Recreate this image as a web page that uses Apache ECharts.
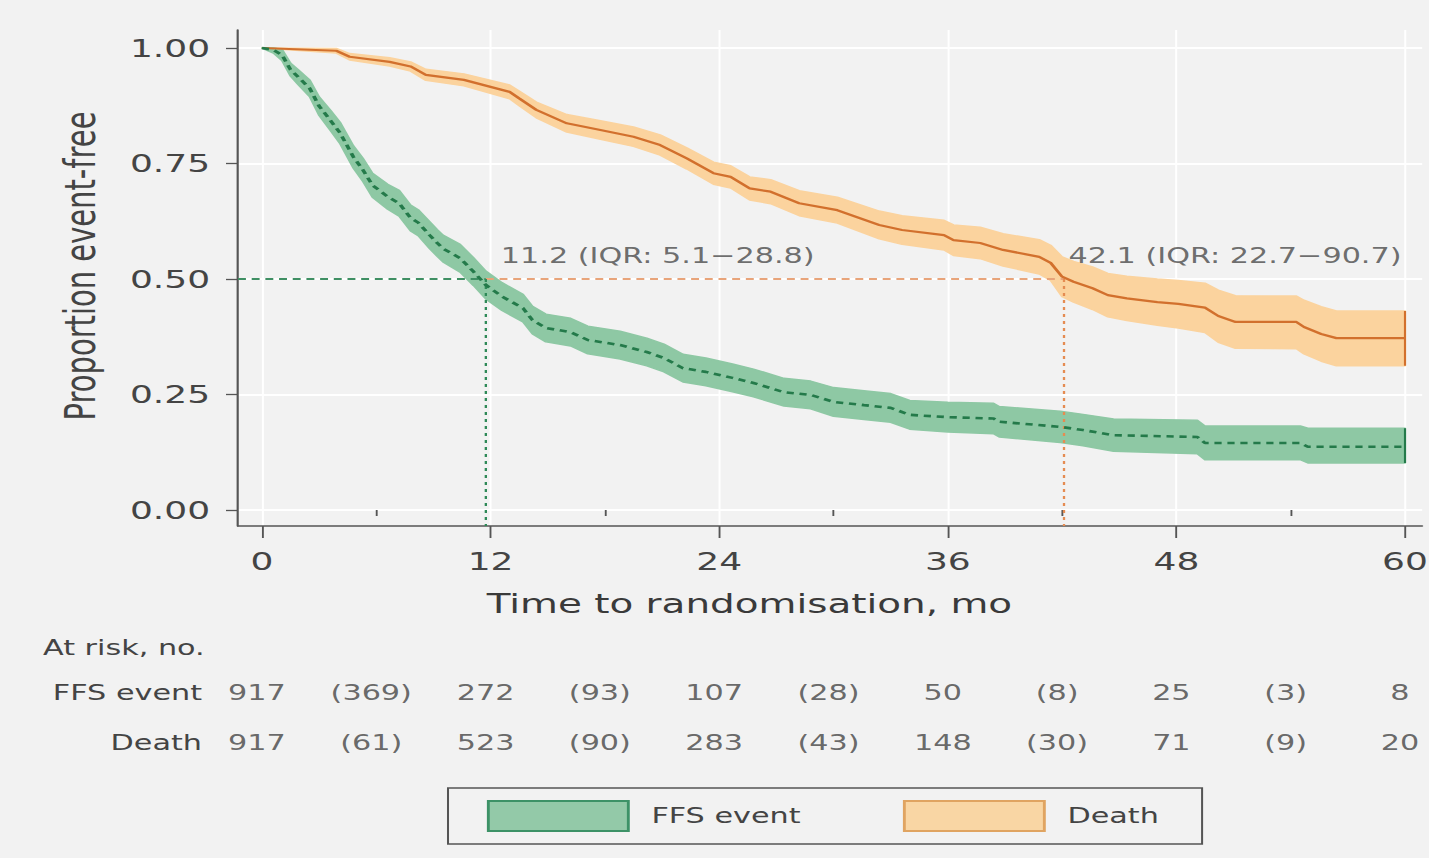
<!DOCTYPE html>
<html><head><meta charset="utf-8">
<script src="https://cdn.jsdelivr.net/npm/echarts@6/dist/echarts.min.js"></script>
<style>
html,body{margin:0;padding:0;background:#f2f2f2;overflow:hidden;width:1429px;height:858px;}
#chart{width:992px;height:858px;transform:scaleX(1.440524);transform-origin:0 0;}
</style></head><body><div id="chart"></div>
<script>
// ---------------- data (curve vertices) ----------------
const ffsTime  = [0,0.6,1.05,1.5,1.9,2.5,3.0,3.6,4.1,4.8,5.3,5.8,6.6,7.2,7.8,8.2,8.8,9.2,9.5,10.4,11.1,11.75,12.6,13.7,14.2,14.9,16.2,17.1,18.8,20.2,21.1,22.1,23.3,24.7,25.8,27.4,28.8,30.0,31.6,33.0,34.0,36.0,38.4,38.7,41.9,43.1,44.7,49.1,49.5,54.5,54.9,60];
const ffsSurv  = [1.000,0.996,0.985,0.953,0.937,0.913,0.874,0.843,0.816,0.764,0.736,0.703,0.678,0.664,0.632,0.622,0.595,0.578,0.566,0.545,0.516,0.487,0.462,0.437,0.411,0.394,0.385,0.368,0.357,0.342,0.329,0.307,0.299,0.286,0.275,0.255,0.249,0.234,0.227,0.221,0.206,0.201,0.198,0.191,0.180,0.173,0.162,0.158,0.145,0.145,0.137,0.137];
const ffsLower = [1.000,0.989,0.973,0.939,0.921,0.895,0.854,0.821,0.793,0.740,0.711,0.677,0.651,0.636,0.604,0.594,0.566,0.549,0.537,0.515,0.486,0.457,0.432,0.407,0.381,0.364,0.355,0.338,0.327,0.312,0.299,0.277,0.269,0.256,0.245,0.225,0.219,0.203,0.196,0.190,0.175,0.169,0.165,0.158,0.146,0.139,0.127,0.122,0.109,0.109,0.102,0.102];
const ffsUpper = [1.000,1.000,0.997,0.967,0.953,0.931,0.894,0.865,0.839,0.788,0.761,0.729,0.705,0.692,0.660,0.650,0.624,0.607,0.595,0.575,0.546,0.517,0.492,0.467,0.441,0.424,0.415,0.398,0.387,0.372,0.359,0.337,0.329,0.316,0.305,0.285,0.279,0.265,0.258,0.252,0.237,0.233,0.231,0.224,0.214,0.207,0.197,0.194,0.182,0.182,0.177,0.177];

const deathTime  = [0,3.9,4.6,6.7,7.8,8.6,10.6,13.0,13.5,14.4,16.0,17.7,19.5,20.9,22.3,23.7,24.6,25.6,26.7,28.2,30.2,32.4,33.6,35.8,36.3,37.7,38.9,40.8,41.4,42.0,42.6,43.6,44.4,45.4,47.0,48.1,49.5,50.2,51.1,54.3,54.7,55.6,56.4,60];
const deathSurv  = [1.000,0.994,0.981,0.970,0.960,0.942,0.931,0.905,0.891,0.866,0.837,0.823,0.808,0.790,0.761,0.729,0.721,0.696,0.689,0.664,0.649,0.617,0.606,0.595,0.584,0.578,0.563,0.548,0.535,0.505,0.494,0.480,0.465,0.458,0.450,0.446,0.438,0.420,0.407,0.407,0.396,0.381,0.372,0.372];
const deathLower = [1.000,0.989,0.974,0.961,0.950,0.930,0.918,0.890,0.875,0.849,0.818,0.803,0.787,0.768,0.738,0.705,0.697,0.671,0.663,0.637,0.621,0.587,0.575,0.563,0.551,0.544,0.528,0.511,0.497,0.462,0.450,0.434,0.418,0.410,0.400,0.394,0.384,0.363,0.350,0.349,0.338,0.322,0.312,0.312];
const deathUpper = [1.000,0.999,0.988,0.979,0.970,0.954,0.944,0.920,0.907,0.883,0.856,0.843,0.829,0.812,0.784,0.753,0.745,0.721,0.715,0.691,0.677,0.647,0.637,0.627,0.617,0.612,0.598,0.585,0.573,0.548,0.538,0.526,0.512,0.506,0.500,0.497,0.491,0.476,0.464,0.463,0.454,0.440,0.431,0.431];

const xTickValues = [0,12,24,36,48,60];
const xMinorTickValues = [6,18,30,42,54];
const yTickValues = [0,0.25,0.5,0.75,1];

const rowNames = ['FFS event','Death'];
const riskTimes = [0,12,24,36,48,60];
const eventTimes = [6,18,30,42,54];
const ffsAtRisk = [917,272,107,50,25,8];
const ffsEvents = [369,93,28,8,3];
const deathAtRisk = [917,523,283,148,71,20];
const deathEvents = [61,90,43,30,9];

const medianFFSLine = 11.75;     // where the vertical guide sits in the figure
const medianDeathLine = 42.1;
const annotationX = [12.5, 42.3];
const annotationY = 0.55;
const annotationText = ['11.2 (IQR: 5.1\u221228.8)', '42.1 (IQR: 22.7\u221290.7)'];

// ---------------- layout ----------------
const SX = 1429/992;
const u = X => X / SX;
const FONT = 'DejaVu Sans';
const xMin = -1.26, xMax = 60.9, yMin = -0.03463, yMax = 1.03896;
const gridWidth = (xMax - xMin) * (u(1405) - u(262)) / 60;

const GREEN_BAND = '#8ec8a4', GREEN_LINE = '#247a4a';
const ORANGE_BAND = '#fbd39e', ORANGE_LINE = '#d2702d';

const zip = (t, v) => t.map((x, i) => [x, v[i]]);

// confidence band polygon, drawn through the axis scales
function bandRenderer(times, lo, hi, color) {
  return function (params, api) {
    if (params.dataIndex !== 0) return null;
    const pts = [];
    for (let i = 0; i < times.length; i++) pts.push(api.coord([times[i], hi[i]]));
    for (let i = times.length - 1; i >= 0; i--) pts.push(api.coord([times[i], lo[i]]));
    return {type: 'polygon', shape: {points: pts},
            style: {fill: color, stroke: color, lineWidth: 1.5, lineJoin: 'round', opacity: 1}};
  };
}

const tableData = [];
riskTimes.forEach((t, i) => {
  tableData.push([t, rowNames[0], String(ffsAtRisk[i])]);
  tableData.push([t, rowNames[1], String(deathAtRisk[i])]);
});
eventTimes.forEach((t, i) => {
  tableData.push([t, rowNames[0], '(' + ffsEvents[i] + ')']);
  tableData.push([t, rowNames[1], '(' + deathEvents[i] + ')']);
});

const chart = echarts.init(document.getElementById('chart'), null, {renderer: 'svg'});
const lastF = ffsTime.length - 1, lastD = deathTime.length - 1;

chart.setOption({
  animation: false,
  backgroundColor: '#f2f2f2',
  textStyle: {fontFamily: FONT},
  title: {
    text: 'At risk, no.', left: u(43), top: 637, padding: 0,
    textStyle: {fontFamily: FONT, fontSize: 21, fontWeight: 'normal', color: '#444'}
  },
  legend: {
    left: u(448), top: 788,
    data: [
      {name: 'FFS event', icon: 'rect', itemStyle: {color: '#93c9a8', borderColor: '#3d9267', borderWidth: 2}},
      {name: 'Death', icon: 'rect', itemStyle: {color: '#f9d6a4', borderColor: '#e0a461', borderWidth: 2}}
    ],
    itemWidth: u(140), itemHeight: 30, itemGap: 71,
    padding: [12, 30, 12, 27],
    borderColor: '#555', borderWidth: 1.4,
    selectedMode: false,
    textStyle: {fontFamily: FONT, fontSize: 21, color: '#444', padding: [0, 0, 0, 11]}
  },
  grid: [
    {left: u(238), top: 30, width: gridWidth, height: 496, outerBoundsMode: 'none', containLabel: false},
    {left: u(238), top: 668, width: gridWidth, height: 100, outerBoundsMode: 'none', containLabel: false}
  ],
  xAxis: [
    {
      type: 'value', gridIndex: 0, position: 'bottom', min: xMin, max: xMax,
      name: 'Time to randomisation, mo', nameLocation: 'middle', nameGap: 64, nameMoveOverlap: false,
      nameTextStyle: {fontFamily: FONT, fontSize: 27, color: '#3a3a3a', padding: [0, 112, 0, 0]},
      axisLine: {show: true, onZero: false, lineStyle: {color: '#555', width: 1.5}},
      axisTick: {show: true, customValues: xTickValues, length: 12, lineStyle: {color: '#555', width: 1.3}},
      axisLabel: {show: true, customValues: xTickValues, margin: 23, fontFamily: FONT, fontSize: 25, color: '#444'},
      splitLine: {show: true, lineStyle: {color: '#ffffff', width: 1.4}}
    },
    {
      type: 'value', gridIndex: 0, position: 'bottom', min: xMin, max: xMax,
      axisLine: {show: false},
      axisTick: {show: true, customValues: xMinorTickValues, length: 6, lineStyle: {color: '#555', width: 1.3}},
      axisLabel: {show: false},
      splitLine: {show: false}
    },
    {
      type: 'value', gridIndex: 1, min: xMin, max: xMax, show: false
    }
  ],
  yAxis: [
    {
      type: 'value', gridIndex: 0, min: yMin, max: yMax,
      name: 'Proportion event-free', nameLocation: 'middle', nameGap: 95, nameMoveOverlap: false,
      nameTextStyle: {fontFamily: FONT, fontSize: 29, color: '#444', padding: [0, 0, 0, 24]},
      axisLine: {show: true, onZero: false, lineStyle: {color: '#555', width: 1.5}},
      axisTick: {show: true, customValues: yTickValues, length: u(12), lineStyle: {color: '#555', width: 1.3}},
      axisLabel: {show: true, customValues: yTickValues, margin: 19.4, fontFamily: FONT, fontSize: 25, color: '#444',
                  formatter: v => v.toFixed(2)},
      splitLine: {show: true, lineStyle: {color: '#ffffff', width: 2}}
    },
    {
      type: 'category', gridIndex: 1, data: rowNames, inverse: true,
      axisLine: {show: false}, axisTick: {show: false}, splitLine: {show: false},
      axisLabel: {show: true, margin: 25, fontFamily: FONT, fontSize: 21, color: '#444'}
    }
  ],
  series: [
    {type: 'custom', name: 'Death', xAxisIndex: 0, yAxisIndex: 0, silent: true,
     itemStyle: {color: ORANGE_BAND},
     data: deathTime.map((t, i) => [t, deathLower[i], deathUpper[i]]), encode: {x: 0, y: [1, 2]},
     renderItem: bandRenderer(deathTime, deathLower, deathUpper, ORANGE_BAND)},
    {type: 'custom', name: 'FFS event', xAxisIndex: 0, yAxisIndex: 0, silent: true,
     itemStyle: {color: GREEN_BAND},
     data: ffsTime.map((t, i) => [t, ffsLower[i], ffsUpper[i]]), encode: {x: 0, y: [1, 2]},
     renderItem: bandRenderer(ffsTime, ffsLower, ffsUpper, GREEN_BAND)},

    // median guides
    {type: 'line', name: 'ffsMedH', data: [[xMin, 0.5], [medianFFSLine, 0.5]], symbol: 'none', silent: true,
     lineStyle: {color: '#3f8f63', width: 2, type: [5.5, 4]}},
    {type: 'line', name: 'deathMedH', data: [[medianFFSLine, 0.5], [medianDeathLine, 0.5]], symbol: 'none', silent: true,
     lineStyle: {color: '#e8a47a', width: 2, type: [5.5, 4]}},
    {type: 'line', name: 'ffsMedV', data: [[medianFFSLine, 0.5], [medianFFSLine, yMin]], symbol: 'none', silent: true,
     lineStyle: {color: '#2f8a58', width: 1.6, type: [3, 4]}},
    {type: 'line', name: 'deathMedV', data: [[medianDeathLine, 0.5], [medianDeathLine, yMin]], symbol: 'none', silent: true,
     lineStyle: {color: '#e58c52', width: 1.6, type: [3, 4]}},

    // survival curves
    {type: 'line', name: 'deathLine', data: zip(deathTime, deathSurv), symbol: 'none', silent: true,
     lineStyle: {color: ORANGE_LINE, width: 2.2}},
    {type: 'line', name: 'ffsLine', data: zip(ffsTime, ffsSurv), symbol: 'none', silent: true,
     lineStyle: {color: GREEN_LINE, width: 2.6, type: [5, 4]}},
    {type: 'line', name: 'deathCap', data: [[deathTime[lastD], deathLower[lastD]], [deathTime[lastD], deathUpper[lastD]]],
     symbol: 'none', silent: true, lineStyle: {color: ORANGE_LINE, width: 1.5}},
    {type: 'line', name: 'ffsCap', data: [[ffsTime[lastF], ffsLower[lastF]], [ffsTime[lastF], ffsUpper[lastF]]],
     symbol: 'none', silent: true, lineStyle: {color: GREEN_LINE, width: 1.5}},

    // median annotations
    {type: 'scatter', name: 'annotations', data: annotationX.map((x, i) => [x, annotationY, annotationText[i]]),
     symbolSize: 1, itemStyle: {color: 'rgba(0,0,0,0)'}, silent: true, z: 5,
     label: {show: true, position: 'right', distance: 0, formatter: p => p.data[2],
             fontFamily: FONT, fontSize: 21, color: '#4a4a4a'}},

    // at-risk table
    {type: 'scatter', name: 'atRisk', xAxisIndex: 2, yAxisIndex: 1, data: tableData,
     symbolSize: 1, itemStyle: {color: 'rgba(0,0,0,0)'}, silent: true,
     label: {show: true, position: 'inside', offset: [-3.5, 0], formatter: p => p.data[2],
             fontFamily: FONT, fontSize: 21, color: '#444'}}
  ]
});
</script></body></html>
